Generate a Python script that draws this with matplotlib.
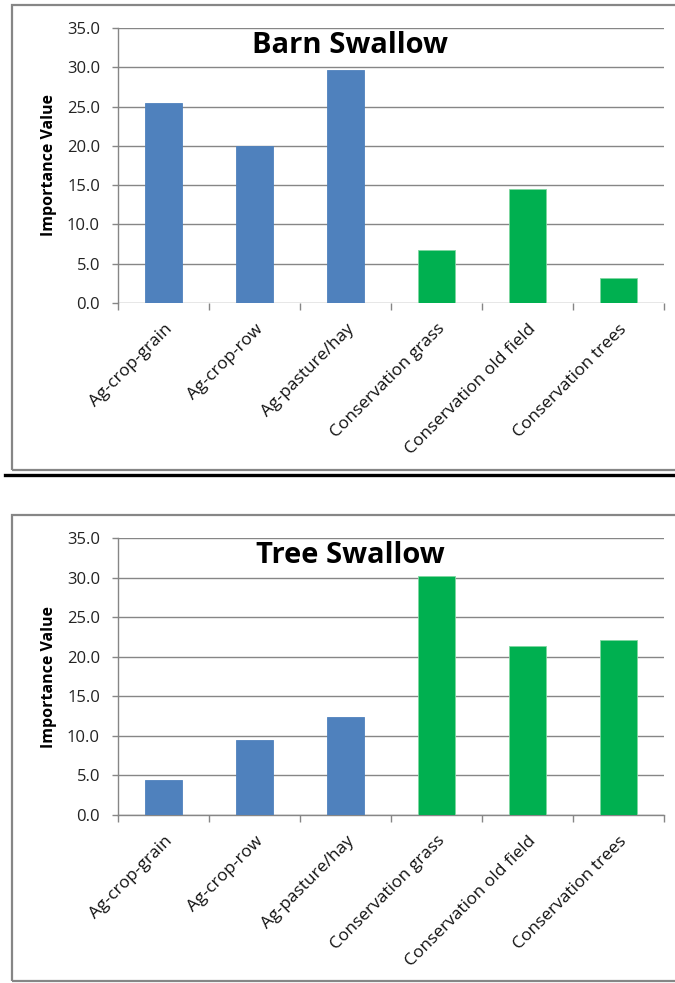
import matplotlib
matplotlib.use("Agg")
import matplotlib.pyplot as plt
from matplotlib.patches import Rectangle
from matplotlib.lines import Line2D
from matplotlib.transforms import ScaledTranslation

# habitat categories and importance values per species
habitats = ["Ag-crop-grain", "Ag-crop-row", "Ag-pasture/hay",
            "Conservation grass", "Conservation old field", "Conservation trees"]
barn_swallow = [25.5, 20.0, 29.6, 6.7, 14.5, 3.2]
tree_swallow = [4.4, 9.5, 12.4, 30.2, 21.3, 22.1]
species = ["Barn Swallow", "Tree Swallow"]
y_ticks = [0, 5, 10, 15, 20, 25, 30, 35]

AG_BLUE = "#4F81BD"
CONS_GREEN = "#00B050"
GRID = "#868686"
bar_colors = [AG_BLUE] * 3 + [CONS_GREEN] * 3

plt.rcParams["font.family"] = ["Open Sans", "DejaVu Sans"]

W, H = 675, 983
fig = plt.figure(figsize=(W / 100, H / 100), dpi=100)


def px_axes(x0, x1, ytop, ybot):
    return [x0 / W, 1 - ybot / H, (x1 - x0) / W, (ybot - ytop) / H]


def draw_panel(ax, values, title, show_baseline):
    x = range(len(habitats))
    for i, (v, c) in enumerate(zip(values, bar_colors)):
        ax.bar(i, v, width=0.4, color=c, zorder=3,
               edgecolor=("#7FD6A0" if c == CONS_GREEN else c), linewidth=0.6)
    ax.set_xlim(-0.5, len(habitats) - 0.5)
    ax.set_ylim(0, 35)
    ax.set_yticks(y_ticks)
    ax.set_yticklabels([f"{t:.1f}" for t in y_ticks], fontsize=12, color="#222222")
    ax.yaxis.grid(True, color=GRID, linewidth=1.0, zorder=0)
    ax.set_axisbelow(True)

    ax.set_xticks(list(x))
    ax.set_xticklabels(habitats, rotation=45, ha="right", va="center",
                       rotation_mode="anchor", fontsize=12.5, color="#111111")
    ax.tick_params(axis="x", which="major", length=0, pad=17)
    # nudge the slanted labels a little to the right of the category centre
    shift = ScaledTranslation(6 / 100, 0, fig.dpi_scale_trans)
    for lbl in ax.get_xticklabels():
        lbl.set_transform(lbl.get_transform() + shift)
    ax.set_xticks([i - 0.5 for i in range(len(habitats) + 1)], minor=True)
    ax.tick_params(axis="x", which="minor", length=5, color=GRID, width=1.0)
    ax.tick_params(axis="y", length=4, color=GRID, width=1.0, pad=9)

    for side in ["top", "right"]:
        ax.spines[side].set_visible(False)
    ax.spines["left"].set_color(GRID)
    ax.spines["left"].set_linewidth(1.0)
    ax.spines["bottom"].set_color(GRID)
    ax.spines["bottom"].set_linewidth(1.0)
    ax.spines["bottom"].set_visible(show_baseline)

    ax.set_ylabel("Importance Value", fontsize=11.5, fontweight="bold")
    ax.yaxis.set_label_coords(-0.112, 0.5)

    ax.text(0.425, 31.8, title, transform=ax.get_yaxis_transform(),
            ha="center", va="baseline", fontsize=21, fontweight="bold")


ax1 = fig.add_axes(px_axes(118, 664, 28, 303))
draw_panel(ax1, barn_swallow, species[0], False)

ax2 = fig.add_axes(px_axes(118, 664, 538, 815))
draw_panel(ax2, tree_swallow, species[1], True)

# chart frames (open on the right) and the separator rule
for ytop, ybot in [(5, 470), (515, 981)]:
    fig.patches.append(Rectangle((12 / W, 1 - ybot / H), 1.0, (ybot - ytop) / H,
                                 transform=fig.transFigure, fill=False,
                                 edgecolor=GRID, linewidth=1.6, clip_on=False))
fig.lines.append(Line2D([5 / W, 1.0], [1 - 475 / H, 1 - 475 / H],
                        transform=fig.transFigure, color="black", linewidth=2.4))

fig.savefig("out.png", dpi=100)
